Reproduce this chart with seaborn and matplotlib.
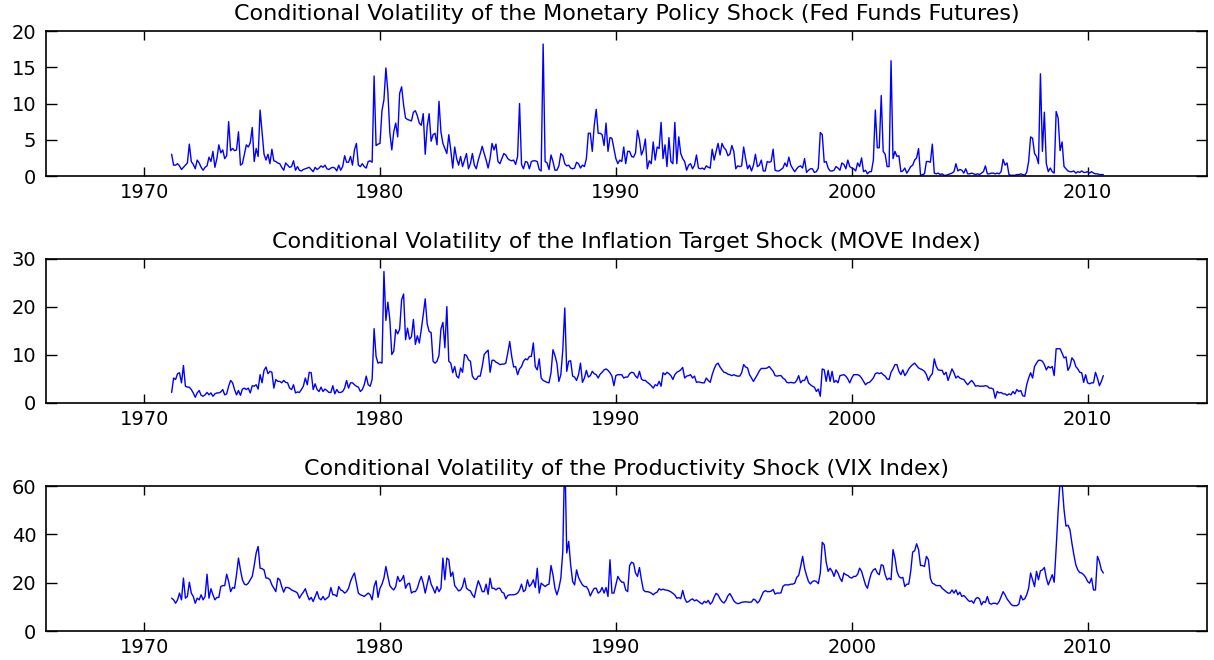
import numpy as np
import pandas as pd
import matplotlib
matplotlib.use("Agg")
import matplotlib.pyplot as plt
import seaborn as sns

# monthly conditional volatilities, Mar 1971 - Sep 2010 (one row per year)
fed_funds = [
    3.0, 1.5, 1.5, 1.7, 1.4, 0.9, 1.2, 1.5, 1.8, 4.4,
    2.0, 1.6, 1.0, 2.2, 1.8, 1.2, 0.8, 1.2, 1.4, 2.6, 2.0, 3.4,
    1.2, 2.4, 4.3, 3.2, 3.6, 2.4, 2.8, 7.5, 3.5, 3.8, 3.5, 3.6,
    6.1, 1.5, 1.7, 3.0, 4.3, 4.0, 4.6, 6.7, 2.0, 3.8, 2.7, 9.1,
    6.0, 3.0, 2.2, 3.0, 1.7, 3.7, 2.1, 2.0, 1.8, 1.7, 1.2, 0.8,
    1.8, 1.5, 1.2, 1.3, 2.1, 0.8, 1.3, 0.8, 0.7, 0.9, 1.0, 1.1,
    1.2, 0.9, 0.6, 1.2, 0.9, 1.1, 1.4, 1.2, 1.5, 1.0, 0.9, 1.1,
    1.2, 1.1, 0.7, 1.5, 0.8, 1.3, 2.8, 1.9, 1.9, 2.7, 1.5, 3.6,
    4.5, 1.5, 1.3, 1.7, 1.3, 1.1, 2.0, 2.1, 1.9, 13.8, 4.2, 4.4,
    4.5, 9.0, 10.5, 14.9, 11.6, 6.0, 3.6, 6.1, 7.3, 5.4, 11.4, 12.3,
    9.8, 8.0, 7.8, 7.7, 7.6, 8.8, 9.0, 8.3, 7.3, 7.0, 8.6, 3.0,
    6.8, 8.6, 4.8, 5.7, 5.9, 4.3, 10.3, 6.1, 4.5, 3.8, 3.1, 5.7,
    3.6, 1.1, 4.0, 2.4, 1.5, 2.7, 1.3, 2.2, 3.1, 1.0, 1.7, 3.1,
    1.5, 1.0, 2.2, 3.1, 4.1, 3.1, 2.2, 1.1, 2.4, 4.5, 3.6, 4.4,
    2.0, 1.7, 2.4, 3.1, 2.9, 2.4, 2.2, 2.1, 2.2, 1.6, 2.7, 10.0,
    1.6, 1.0, 2.0, 1.9, 1.0, 2.0, 2.1, 2.1, 2.0, 0.9, 0.7, 18.2,
    2.0, 1.8, 0.9, 2.9, 2.0, 0.8, 0.8, 1.4, 3.1, 2.8, 1.7, 1.4,
    1.5, 1.1, 1.0, 1.1, 1.9, 1.7, 1.1, 1.5, 1.3, 2.4, 5.9, 5.9,
    3.4, 7.0, 9.2, 5.9, 5.9, 5.7, 4.2, 7.3, 3.4, 5.3, 5.2, 3.8,
    2.4, 1.7, 2.2, 2.0, 4.0, 1.7, 3.4, 3.4, 2.7, 2.6, 3.2, 6.3,
    5.0, 2.9, 3.6, 5.1, 1.0, 2.1, 1.7, 4.7, 2.2, 4.0, 3.8, 7.4,
    2.4, 4.3, 1.3, 5.3, 2.0, 1.7, 7.4, 1.7, 5.4, 3.1, 2.4, 2.0,
    0.8, 1.5, 1.7, 1.0, 1.5, 2.9, 1.1, 1.0, 1.1, 0.9, 1.4, 1.2,
    1.1, 3.7, 2.2, 3.4, 4.5, 2.9, 4.5, 3.9, 3.6, 2.8, 3.0, 4.2,
    3.4, 1.0, 1.4, 1.3, 1.4, 4.0, 2.4, 1.0, 1.5, 0.7, 1.5, 3.0,
    1.3, 1.5, 2.2, 0.7, 0.7, 2.0, 1.9, 2.0, 3.7, 0.8, 0.7, 0.7,
    0.9, 1.1, 1.8, 1.3, 2.6, 1.5, 1.0, 0.6, 1.0, 1.3, 1.4, 1.1,
    2.4, 0.5, 0.8, 1.0, 1.0, 0.5, 0.6, 1.1, 6.0, 5.7, 1.9, 2.0,
    1.1, 0.7, 0.7, 0.8, 1.3, 1.1, 0.8, 1.8, 1.6, 1.0, 2.2, 1.3,
    1.1, 1.0, 0.7, 1.8, 1.3, 2.5, 0.6, 0.8, 0.3, 0.6, 0.6, 2.2,
    9.1, 3.9, 3.9, 11.1, 3.4, 3.0, 1.3, 1.3, 15.9, 2.4, 3.4, 2.7,
    2.8, 0.6, 0.7, 1.1, 0.4, 0.8, 1.3, 1.5, 2.2, 2.5, 3.8, 0.1,
    0.2, 0.3, 2.0, 2.0, 1.9, 4.4, 0.4, 0.3, 0.4, 0.2, 0.3, 0.1,
    0.1, 0.2, 0.3, 0.4, 0.6, 1.7, 0.7, 0.9, 0.8, 0.4, 1.0, 0.3,
    0.3, 0.4, 0.3, 0.2, 0.3, 0.2, 0.4, 0.6, 1.4, 0.3, 0.3, 0.4,
    0.4, 0.3, 0.4, 0.3, 0.6, 2.3, 1.5, 1.8, 0.2, 0.1, 0.1, 0.1,
    0.2, 0.2, 0.3, 0.2, 0.1, 0.5, 2.0, 5.4, 5.2, 3.1, 2.7, 1.7,
    14.1, 3.4, 8.8, 1.7, 0.6, 1.1, 0.6, 0.4, 8.9, 8.0, 3.5, 4.7,
    1.3, 1.0, 0.7, 0.6, 0.6, 0.7, 0.4, 0.6, 0.5, 0.7, 0.5, 0.5,
    0.6, 0.4, 0.6, 0.4, 0.3, 0.3, 0.2, 0.2, 0.2,
]

move_index = [
    2.2, 5.2, 4.9, 6.1, 6.3, 4.2, 7.8, 3.5, 3.3, 3.3,
    2.8, 2.1, 1.2, 2.1, 2.6, 1.6, 1.4, 1.7, 2.2, 1.7, 2.1, 1.4,
    1.9, 2.1, 2.1, 2.3, 2.8, 1.7, 1.9, 3.5, 4.7, 4.2, 2.8, 1.7,
    2.6, 1.6, 2.9, 3.1, 2.8, 3.1, 2.1, 3.6, 3.5, 3.8, 2.9, 5.9,
    4.2, 6.8, 7.5, 6.1, 6.6, 6.4, 3.1, 4.9, 4.5, 4.5, 4.2, 4.7,
    4.3, 4.2, 3.1, 2.8, 3.8, 2.1, 2.3, 2.2, 2.8, 3.5, 5.2, 3.8,
    6.4, 6.3, 2.8, 4.0, 2.8, 2.4, 3.3, 2.4, 2.9, 2.6, 2.2, 2.2,
    3.6, 1.9, 2.8, 2.2, 2.2, 2.4, 3.1, 4.7, 3.1, 4.2, 4.2, 3.8,
    3.5, 3.3, 2.4, 2.8, 3.8, 5.6, 3.8, 3.5, 4.9, 15.5, 9.7, 8.3,
    8.5, 8.3, 27.4, 17.2, 21.0, 17.4, 10.1, 10.8, 15.3, 14.4, 15.4, 21.5,
    22.7, 13.2, 15.6, 13.3, 13.8, 17.4, 12.2, 14.0, 12.5, 15.3, 18.4, 21.7,
    16.5, 14.9, 14.7, 8.7, 8.3, 8.7, 9.9, 15.4, 16.8, 11.5, 20.1, 8.7,
    8.3, 6.3, 7.6, 5.6, 5.2, 7.3, 6.4, 10.1, 9.9, 9.0, 8.7, 5.6,
    5.0, 4.9, 5.6, 5.6, 7.6, 10.1, 10.6, 11.0, 6.4, 8.9, 8.9, 8.5,
    8.3, 8.0, 8.1, 8.1, 8.3, 10.4, 12.8, 9.7, 7.5, 7.6, 5.9, 7.1,
    7.6, 8.7, 9.2, 9.0, 9.7, 9.7, 12.5, 7.6, 6.9, 9.2, 5.2, 4.7,
    4.5, 4.3, 4.2, 6.3, 11.1, 9.9, 8.3, 4.5, 5.9, 11.1, 19.8, 6.6,
    8.7, 8.8, 5.6, 5.4, 4.7, 5.9, 8.3, 4.3, 5.2, 6.8, 5.4, 5.7,
    6.6, 6.1, 5.9, 5.2, 6.0, 6.4, 6.9, 7.1, 6.8, 6.3, 5.6, 3.6,
    5.7, 5.9, 5.9, 5.9, 5.2, 5.4, 5.4, 6.1, 6.4, 6.3, 5.6, 5.2,
    6.6, 5.0, 4.7, 4.7, 4.3, 4.0, 3.6, 3.1, 3.8, 3.6, 4.5, 3.5,
    6.3, 5.9, 6.4, 6.1, 5.7, 4.9, 5.9, 6.4, 6.6, 6.9, 7.4, 5.2,
    5.6, 5.7, 5.9, 5.2, 5.6, 4.3, 4.4, 4.3, 4.2, 4.2, 5.2, 4.7,
    4.3, 5.9, 7.1, 8.0, 8.3, 7.5, 6.9, 6.4, 6.3, 6.0, 5.9, 5.7,
    5.9, 5.7, 5.6, 5.6, 6.3, 8.0, 7.5, 7.3, 5.9, 5.2, 4.5, 5.2,
    5.9, 6.7, 7.2, 7.2, 7.2, 7.3, 7.6, 7.1, 6.6, 5.7, 5.6, 5.7,
    5.7, 5.2, 4.9, 4.3, 4.2, 4.3, 4.2, 4.2, 4.7, 5.7, 4.2, 4.7,
    4.7, 5.6, 4.2, 3.8, 3.5, 3.3, 2.4, 2.9, 1.4, 7.1, 6.9, 4.5,
    6.8, 4.5, 6.6, 4.3, 4.7, 4.2, 5.7, 5.8, 5.9, 5.6, 5.0, 4.2,
    5.2, 5.9, 5.9, 5.9, 5.7, 5.2, 4.5, 3.8, 4.2, 4.3, 4.7, 5.2,
    6.1, 6.3, 6.1, 6.3, 5.9, 5.6, 5.0, 4.9, 6.4, 7.1, 8.0, 8.0,
    6.6, 5.9, 6.9, 5.7, 6.3, 7.1, 7.6, 8.0, 8.3, 7.8, 7.3, 7.1,
    6.9, 6.6, 5.9, 4.7, 5.6, 6.1, 9.2, 7.6, 6.9, 6.8, 6.8, 5.9,
    6.4, 4.7, 5.9, 7.1, 6.3, 5.2, 5.6, 5.2, 5.0, 4.9, 4.3, 3.8,
    4.3, 4.7, 4.2, 3.5, 3.6, 3.5, 3.5, 3.5, 3.6, 3.5, 3.1, 3.1,
    2.9, 1.0, 2.4, 2.1, 2.2, 1.9, 1.9, 1.6, 1.9, 1.7, 2.4, 1.9,
    2.8, 2.4, 2.6, 1.5, 1.4, 3.8, 5.2, 6.3, 5.2, 7.6, 8.3, 8.9,
    8.9, 8.7, 8.0, 6.9, 7.6, 7.3, 7.6, 5.7, 11.3, 11.3, 11.3, 10.4,
    9.4, 9.6, 6.8, 7.6, 9.4, 8.9, 7.6, 7.1, 6.4, 6.3, 4.3, 5.9,
    4.2, 4.0, 4.2, 4.2, 6.4, 5.2, 3.6, 4.5, 5.7,
]

vix_index = [
    13.6, 12.9, 11.5, 12.9, 15.7, 12.9, 21.9, 13.6, 14.3, 20.2,
    15.7, 14.3, 11.5, 13.6, 12.9, 15.0, 12.9, 14.3, 23.5, 13.6, 17.5, 15.0,
    12.9, 13.9, 13.9, 18.4, 18.8, 18.8, 23.5, 20.5, 16.3, 18.0, 17.7, 23.3,
    30.2, 25.3, 21.2, 19.4, 19.1, 19.8, 21.2, 22.6, 27.1, 32.3, 35.0, 26.0,
    25.8, 25.3, 21.9, 21.9, 21.2, 19.1, 17.7, 16.3, 21.9, 21.2, 18.4, 16.1,
    18.0, 18.0, 17.7, 17.0, 16.6, 16.3, 15.7, 13.6, 15.0, 16.1, 17.5, 15.0,
    12.9, 13.9, 12.2, 14.3, 16.3, 13.6, 12.9, 14.3, 12.9, 13.6, 14.3, 18.0,
    15.0, 15.0, 14.3, 18.4, 17.0, 16.6, 15.7, 16.3, 17.7, 20.5, 22.5, 24.0,
    19.8, 15.7, 15.0, 14.7, 14.3, 15.0, 15.7, 15.0, 12.9, 18.4, 20.8, 13.9,
    17.7, 19.4, 21.9, 26.7, 22.6, 18.8, 17.7, 17.0, 18.4, 22.6, 20.5, 21.2,
    23.0, 17.7, 19.4, 19.8, 15.7, 16.3, 16.3, 17.7, 20.5, 22.6, 19.8, 15.7,
    19.4, 22.9, 19.4, 17.7, 15.7, 18.4, 16.3, 17.7, 30.2, 21.2, 30.2, 29.5,
    22.6, 24.4, 18.8, 17.7, 16.6, 17.0, 18.4, 21.9, 17.7, 17.0, 16.6, 15.0,
    13.9, 17.7, 20.8, 18.8, 16.3, 16.3, 19.4, 15.2, 21.9, 17.7, 17.7, 17.0,
    17.7, 17.7, 16.1, 15.7, 13.3, 14.7, 15.0, 15.0, 15.0, 15.2, 15.7, 17.0,
    19.4, 16.3, 17.0, 21.2, 18.4, 19.4, 21.2, 18.0, 26.0, 15.7, 19.8, 19.1,
    18.4, 19.1, 19.4, 27.1, 23.3, 17.7, 15.0, 17.7, 21.9, 33.0, 75.0, 32.3,
    37.1, 27.4, 20.5, 19.1, 25.3, 22.2, 20.5, 19.1, 18.4, 18.4, 17.0, 14.5,
    16.3, 17.7, 17.7, 15.7, 16.3, 18.0, 15.7, 18.0, 14.3, 29.5, 15.7, 15.7,
    19.1, 22.6, 21.2, 20.2, 20.2, 17.0, 16.3, 27.1, 28.5, 28.0, 24.0, 22.6,
    26.3, 21.2, 17.0, 16.3, 16.3, 16.1, 15.7, 15.0, 15.7, 16.1, 17.5, 17.0,
    17.3, 17.0, 16.9, 16.6, 16.2, 15.6, 14.9, 13.6, 13.8, 13.4, 16.8, 13.6,
    11.9, 12.2, 12.9, 13.3, 12.5, 12.9, 12.3, 11.6, 11.2, 12.3, 11.7, 12.7,
    11.1, 12.0, 14.0, 15.6, 14.9, 13.3, 12.2, 11.6, 12.7, 14.6, 15.5, 14.1,
    12.5, 11.7, 11.3, 11.5, 11.9, 12.0, 12.1, 12.0, 11.9, 12.0, 13.2, 12.8,
    11.6, 12.4, 14.2, 16.1, 16.7, 16.3, 16.3, 16.5, 17.2, 15.3, 15.7, 15.7,
    15.8, 18.5, 19.1, 19.1, 19.1, 19.4, 19.4, 19.8, 22.2, 23.0, 26.7, 30.9,
    26.0, 23.0, 20.5, 19.5, 20.5, 20.8, 20.5, 19.6, 24.0, 36.7, 35.7, 28.5,
    24.7, 26.0, 24.7, 22.6, 25.3, 24.0, 21.9, 20.5, 24.0, 23.3, 23.0, 22.2,
    21.9, 22.6, 22.6, 23.5, 26.0, 24.7, 21.9, 19.1, 17.7, 21.2, 24.0, 25.3,
    25.8, 24.0, 23.3, 27.4, 27.1, 23.3, 21.2, 21.9, 21.2, 33.7, 30.2, 24.7,
    22.6, 21.9, 22.2, 18.4, 19.4, 19.4, 24.7, 32.7, 33.2, 36.1, 33.7, 27.1,
    27.1, 26.7, 30.9, 29.5, 21.9, 19.8, 19.4, 18.8, 18.8, 18.8, 17.7, 17.0,
    16.3, 15.7, 15.7, 17.0, 15.7, 17.0, 15.0, 16.1, 14.3, 14.7, 13.9, 12.9,
    12.2, 12.5, 11.5, 13.3, 13.9, 13.3, 10.8, 12.2, 11.8, 14.3, 11.5, 11.1,
    11.5, 11.5, 11.1, 12.2, 14.3, 16.3, 15.0, 13.3, 12.2, 11.1, 10.5, 10.5,
    10.5, 11.1, 14.7, 12.9, 13.3, 15.0, 17.7, 24.0, 21.2, 18.4, 24.7, 21.2,
    24.9, 25.3, 26.3, 21.9, 19.1, 21.2, 23.3, 20.2, 34.3, 49.6, 62.0, 61.0,
    50.3, 43.4, 43.8, 42.0, 36.4, 31.6, 27.4, 25.3, 24.2, 24.0, 23.3, 22.2,
    20.5, 19.8, 21.9, 17.0, 17.0, 30.9, 28.8, 25.3, 24.0,
]

titles = [
    "Conditional Volatility of the Monetary Policy Shock (Fed Funds Futures)",
    "Conditional Volatility of the Inflation Target Shock (MOVE Index)",
    "Conditional Volatility of the Productivity Shock (VIX Index)",
]
y_max = [20, 30, 60]
y_ticks = [[0, 5, 10, 15, 20], [0, 10, 20, 30], [0, 20, 40, 60]]
x_ticks = [1970, 1980, 1990, 2000, 2010]


def decimal_years(n):
    months = pd.date_range("1971-03-01", periods=n, freq="MS")
    return np.asarray(months.year + (months.month - 1) / 12.0)


sns.set_style("white")
plt.rcParams["font.family"] = ["DejaVu Sans"]
plt.rcParams["text.color"] = "black"
plt.rcParams["xtick.color"] = "black"
plt.rcParams["ytick.color"] = "black"
plt.rcParams["axes.labelcolor"] = "black"

fig = plt.figure(figsize=(12.14, 6.6), dpi=100)

# [left, bottom, width, height] in figure fractions
boxes = [
    [0.0379, 0.7333, 0.9563, 0.2197],
    [0.0379, 0.3894, 0.9563, 0.2182],
    [0.0379, 0.0439, 0.9563, 0.2197],
]

for series, title, ymax, yt, box in zip(
    [fed_funds, move_index, vix_index], titles, y_max, y_ticks, boxes
):
    ax = fig.add_axes(box)
    df = pd.DataFrame({"year": decimal_years(len(series)), "vol": series})
    sns.lineplot(data=df, x="year", y="vol", ax=ax, color="#0000ff",
                 linewidth=1.0, estimator=None, sort=False)
    ax.set_xlim(1965.84, 2015.06)
    ax.set_ylim(0, ymax)
    ax.set_xticks(x_ticks)
    ax.set_yticks(yt)
    ax.set_xlabel("")
    ax.set_ylabel("")
    ax.set_title(title, fontsize=16, pad=8, color="black")
    ax.tick_params(axis="x", direction="in", length=6.5, width=1,
                   top=True, bottom=True, labelsize=14, pad=5,
                   colors="black")
    ax.tick_params(axis="y", direction="in", length=8, width=1,
                   left=True, right=True, labelsize=14, pad=7,
                   colors="black")
    for s in ax.spines.values():
        s.set_linewidth(1.2)
        s.set_color("black")

fig.savefig("out.png", dpi=100)
